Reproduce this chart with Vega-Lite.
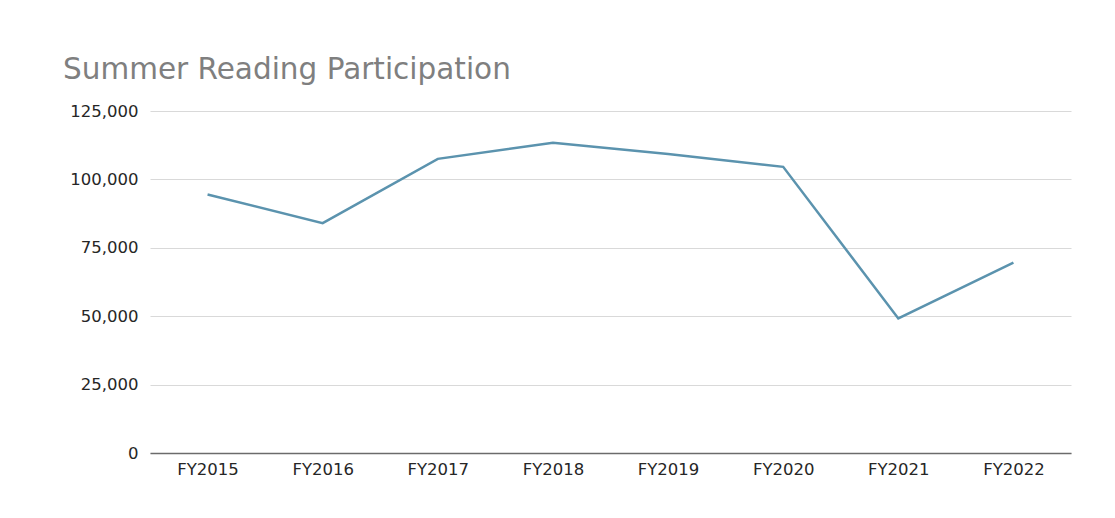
{
  "$schema": "https://vega.github.io/schema/vega-lite/v6.json",
  "autosize": {"type": "none"},
  "width": 921,
  "height": 342,
  "padding": {"left": 150, "top": 111, "right": 44, "bottom": 65},
  "background": "white",
  "title": {
    "text": "Summer Reading Participation",
    "anchor": "start",
    "frame": "group",
    "dx": -87,
    "offset": 18,
    "font": "DejaVu Sans",
    "fontSize": 29.5,
    "fontWeight": "normal",
    "color": "#7f7f7f"
  },
  "data": {
    "values": [
      {"year": "FY2015", "participants": 94500},
      {"year": "FY2016", "participants": 84000},
      {"year": "FY2017", "participants": 107500},
      {"year": "FY2018", "participants": 113400},
      {"year": "FY2019", "participants": 109300},
      {"year": "FY2020", "participants": 104600},
      {"year": "FY2021", "participants": 49200},
      {"year": "FY2022", "participants": 69600}
    ]
  },
  "mark": {"type": "line", "color": "#5b93ae", "strokeWidth": 2.5},
  "encoding": {
    "x": {
      "field": "year",
      "type": "ordinal",
      "scale": {"type": "point", "padding": 0.5},
      "axis": {
        "title": null,
        "labelAngle": 0,
        "ticks": false,
        "domainColor": "#6b6b6b",
        "domainWidth": 1.5,
        "labelFont": "DejaVu Sans",
        "labelFontSize": 16.5,
        "labelColor": "#262626",
        "labelPadding": 8,
        "grid": false
      }
    },
    "y": {
      "field": "participants",
      "type": "quantitative",
      "scale": {"domain": [0, 125000], "nice": false},
      "axis": {
        "title": null,
        "values": [0, 25000, 50000, 75000, 100000, 125000],
        "format": ",.0f",
        "domain": false,
        "ticks": false,
        "labelFont": "DejaVu Sans",
        "labelFontSize": 16.5,
        "labelColor": "#262626",
        "labelPadding": 12,
        "gridColor": "#d9d9d9",
        "gridWidth": 1
      }
    }
  },
  "config": {"view": {"stroke": null}}
}
